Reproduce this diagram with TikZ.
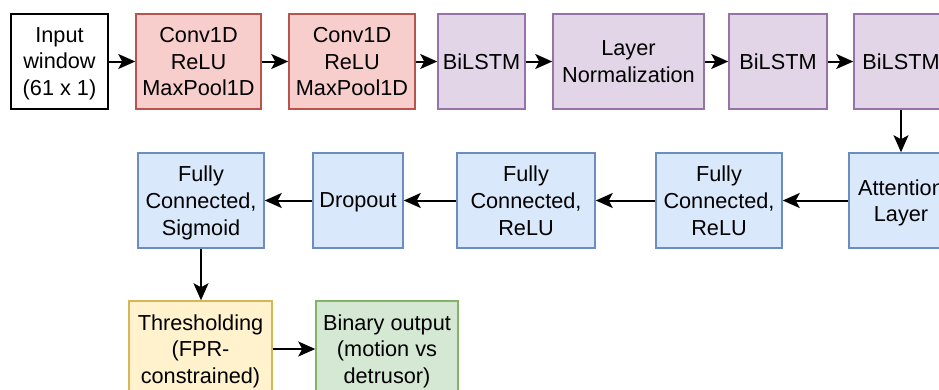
\documentclass[tikz,border=0pt]{standalone}
\usepackage{fontspec}
\setmainfont{Liberation Sans}
\usetikzlibrary{arrows.meta}
\definecolor{redF}{HTML}{F8CECC}\definecolor{redD}{HTML}{B85450}
\definecolor{purF}{HTML}{E1D5E7}\definecolor{purD}{HTML}{9673A6}
\definecolor{bluF}{HTML}{DAE8FC}\definecolor{bluD}{HTML}{6C8EBF}
\definecolor{yelF}{HTML}{FFF2CC}\definecolor{yelD}{HTML}{D6B656}
\definecolor{grnF}{HTML}{D5E8D4}\definecolor{grnD}{HTML}{82B366}
\tikzset{
  blk/.style={rectangle, line width=1.5pt, align=center, inner sep=0pt,
    font=\fontsize{21.7}{26.7}\selectfont, text depth=0pt, minimum height=95pt},
  inbox/.style={blk, draw=black, fill=white, line width=1.8pt},
  redbox/.style={blk, draw=redD, fill=redF},
  purbox/.style={blk, draw=purD, fill=purF},
  blubox/.style={blk, draw=bluD, fill=bluF},
  yelbox/.style={blk, draw=yelD, fill=yelF},
  grnbox/.style={blk, draw=grnD, fill=grnF},
  conn/.style={line width=2pt, -{Stealth[length=17pt,width=15pt,inset=4pt]}}
}
\begin{document}
\begin{tikzpicture}[x=1pt,y=-1pt]
\useasboundingbox (0,0) rectangle (939,389);
\clip (0,0) rectangle (939,389);
\node[inbox, minimum width=97pt] (in) at (59.5,61.5) {Input\\window\\(61 x 1)};
\node[redbox, minimum width=125pt] (c1) at (198.5,61.5) {Conv1D\\ReLU\\MaxPool1D};
\node[redbox, minimum width=126pt] (c2) at (352,61.5) {Conv1D\\ReLU\\MaxPool1D};
\node[purbox, minimum width=87pt] (b1) at (481.5,61.5) {BiLSTM};
\node[purbox, minimum width=151pt] (ln) at (628.5,61.5) {Layer\\Normalization};
\node[purbox, minimum width=98pt] (b2) at (778,61.5) {BiLSTM};
\node[purbox, minimum width=94pt] (b3) at (901,61.5) {BiLSTM};
\node[blubox, minimum width=104pt] (att) at (901,200.5) {Attention\\Layer};
\node[blubox, minimum width=126pt] (fc2) at (719,200.5) {Fully\\Connected,\\ReLU};
\node[blubox, minimum width=138pt] (fc1) at (526,200.5) {Fully\\Connected,\\ReLU};
\node[blubox, minimum width=90pt] (dr) at (358,200.5) {Dropout};
\node[blubox, minimum width=126pt] (sig) at (201,200.5) {Fully\\Connected,\\Sigmoid};
\node[yelbox, minimum width=143pt, minimum height=96pt] (th) at (200.5,349) {Thresholding\\(FPR-\\constrained)};
\node[grnbox, minimum width=142pt, minimum height=96pt] (bo) at (387,349) {Binary output\\(motion vs\\detrusor)};
\draw[conn] (in) -- (c1);
\draw[conn] (c1) -- (c2);
\draw[conn] (c2) -- (b1);
\draw[conn] (b1) -- (ln);
\draw[conn] (ln) -- (b2);
\draw[conn] (b2) -- (b3);
\draw[conn] (b3) -- (att);
\draw[conn] (att) -- (fc2);
\draw[conn] (fc2) -- (fc1);
\draw[conn] (fc1) -- (dr);
\draw[conn] (dr) -- (sig);
\draw[conn] (sig.south) -- (sig.south |- th.north);
\draw[conn] (th) -- (bo);
\end{tikzpicture}
\end{document}
